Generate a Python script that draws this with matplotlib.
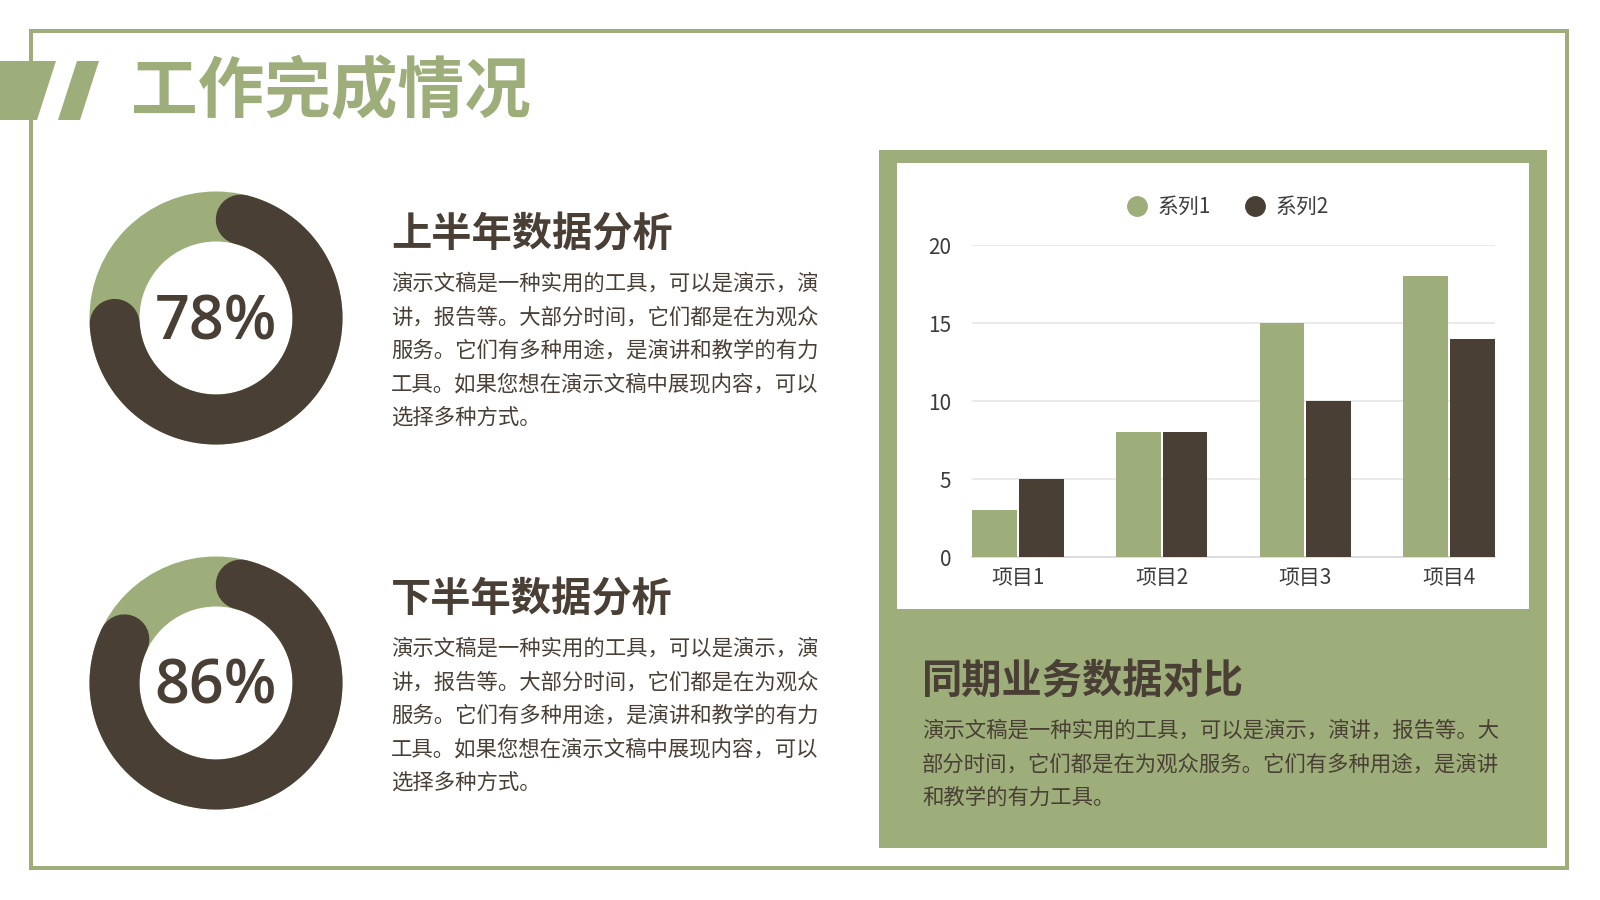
import numpy as np
import matplotlib
matplotlib.use("Agg")
import matplotlib.pyplot as plt
from matplotlib.patches import Rectangle, Polygon, Circle
from matplotlib.lines import Line2D

plt.rcParams['font.family'] = ['Noto Sans CJK SC', 'DejaVu Sans']

GREEN = '#9dae7a'
DARK = '#4a3f35'
GRID = '#e6e6e6'

# data
title = '工作完成情况'
pcts = [78, 86]
pct_labels = ['78%', '86%']
section_titles = ['上半年数据分析', '下半年数据分析']
section_lines = [
    '演示文稿是一种实用的工具，可以是演示，演',
    '讲，报告等。大部分时间，它们都是在为观众',
    '服务。它们有多种用途，是演讲和教学的有力',
    '工具。如果您想在演示文稿中展现内容，可以',
    '选择多种方式。',
]
chart_title = '同期业务数据对比'
chart_lines = [
    '演示文稿是一种实用的工具，可以是演示，演讲，报告等。大',
    '部分时间，它们都是在为观众服务。它们有多种用途，是演讲',
    '和教学的有力工具。',
]
categories = ['项目1', '项目2', '项目3', '项目4']
series_names = ['系列1', '系列2']
series1 = [3, 8, 15, 18]
series2 = [5, 8, 10, 14]
yticks = [0, 5, 10, 15, 20]

fig = plt.figure(figsize=(16, 9), dpi=100)
fig.patch.set_facecolor('white')

# background layer in pixel coords
bg = fig.add_axes([0, 0, 1, 1])
bg.set_xlim(0, 1600)
bg.set_ylim(900, 0)
bg.axis('off')

PX = 0.72  # px -> pt at 100 dpi

bg.add_patch(Rectangle((31, 31), 1536, 837, fill=False, ec=GREEN, lw=4 * PX))
bg.add_patch(Polygon([(0, 61), (56, 61), (37, 120), (0, 120)], closed=True, fc=GREEN, ec='none'))
bg.add_patch(Polygon([(77, 61), (99, 61), (80, 120), (58, 120)], closed=True, fc=GREEN, ec='none'))
bg.text(131, 92, title, fontsize=48, fontweight='black', color=GREEN, va='center', ha='left')

# donuts
def donut(cx, cy, pct, label):
    r_mid = 101.5
    w = 50
    bg.add_patch(Circle((cx, cy), r_mid, fill=False, ec=GREEN, lw=w * PX))
    cap = np.degrees((w / 2) / r_mid)
    th = np.radians(np.linspace(90 - cap, 90 - pct * 3.6 + cap, 300))
    bg.plot(cx + r_mid * np.cos(th), cy - r_mid * np.sin(th), color=DARK,
            lw=w * PX, solid_capstyle='round')
    bg.text(cx, cy + 5, label, fontsize=44, fontweight='semibold', color=DARK,
            ha='center', va='center', family=['Open Sans', 'DejaVu Sans'])

donut_y = [318, 683]
head_y = [235, 600]
for i in range(2):
    donut(216, donut_y[i], pcts[i], pct_labels[i])
    bg.text(391, head_y[i], section_titles[i], fontsize=29, fontweight='bold',
            color=DARK, ha='left', va='center')
    for j, line in enumerate(section_lines):
        bg.text(391, head_y[i] + 49 + j * 33.3, line, fontsize=15.4, color=DARK,
                ha='left', va='center')

# chart panel
bg.add_patch(Rectangle((879, 150), 668, 698, fc=GREEN, ec='none'))
bg.add_patch(Rectangle((897, 163), 632, 446, fc='white', ec='none'))
bg.text(922, 681, chart_title, fontsize=29, fontweight='bold', color=DARK,
        ha='left', va='center')
for j, line in enumerate(chart_lines):
    bg.text(922, 731 + j * 33.5, line, fontsize=15.4, color=DARK, ha='left', va='center')

# bar chart
ax = fig.add_axes([972 / 1600, 1 - 557 / 900, (1495 - 972) / 1600, (557 - 245) / 900])
ax.set_facecolor('none')
x = np.arange(len(categories))
bw = 0.31
ax.bar(x - 0.163, series1, width=bw, color=GREEN, zorder=3)
ax.bar(x + 0.163, series2, width=bw, color=DARK, zorder=3)
ax.set_xlim(-0.32, 3.32)
ax.set_ylim(0, 20)
ax.set_yticks(yticks)
ax.set_xticks(x)
ax.set_xticklabels(categories)
ax.yaxis.grid(True, color=GRID, lw=1.2, zorder=0)
for s in ['top', 'right', 'left']:
    ax.spines[s].set_visible(False)
ax.spines['bottom'].set_color('#d9d9d9')
ax.spines['bottom'].set_linewidth(1.2)
ax.tick_params(axis='both', length=0, labelsize=15, colors='#3d3d3d')
ax.tick_params(axis='y', pad=15)
ax.tick_params(axis='x', pad=7)

handles = [Line2D([], [], marker='o', ls='none', markersize=14, markerfacecolor=GREEN, markeredgecolor=GREEN),
           Line2D([], [], marker='o', ls='none', markersize=14, markerfacecolor=DARK, markeredgecolor=DARK)]
leg = fig.legend(handles, series_names, loc='center', bbox_to_anchor=(1228 / 1600, 1 - 207 / 900),
                 ncol=2, frameon=False, fontsize=15, handlelength=1.0, handletextpad=0.5,
                 columnspacing=1.6, labelcolor='#3d3d3d')

fig.savefig('out.png', dpi=100, facecolor='white')
